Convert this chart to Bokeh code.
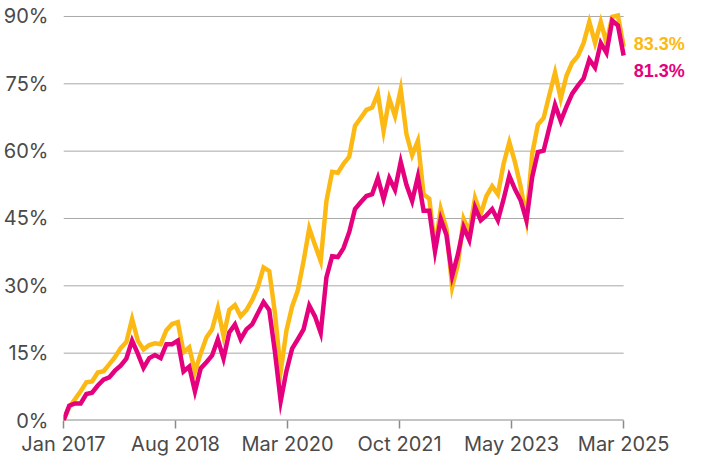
from bokeh.plotting import figure
from bokeh.models import Range1d, FixedTicker, CustomJSTickFormatter, PrintfTickFormatter
from bokeh.core.properties import value
from bokeh.embed import file_html
from bokeh.resources import INLINE

# Monthly cumulative returns (%), Jan 2017 .. Mar 2025
yellow_vals = [
    0.0, 3.0, 4.7, 6.5, 8.5, 8.7, 10.7, 11.0, 12.5, 14.1,
    16.1, 17.5, 22.6, 17.8, 15.8, 16.8, 17.2, 17.0, 20.1, 21.5,
    21.9, 15.2, 16.3, 10.9, 14.9, 18.5, 20.3, 25.0, 18.8, 24.6,
    25.7, 23.2, 24.6, 26.8, 29.7, 34.1, 33.3, 23.9, 10.9, 20.0,
    25.4, 29.0, 35.5, 42.8, 39.1, 35.5, 48.9, 55.4, 55.2, 57.2,
    58.8, 65.6, 67.4, 69.2, 69.7, 72.8, 64.5, 71.7, 67.8, 73.8,
    63.8, 59.1, 62.3, 50.4, 49.4, 38.4, 47.1, 42.8, 29.7, 34.8,
    44.9, 42.0, 49.6, 46.0, 50.0, 52.2, 50.4, 57.2, 62.0, 57.5,
    52.0, 44.8, 59.4, 65.9, 67.4, 72.5, 77.5, 71.7, 76.8, 79.7,
    81.2, 84.1, 88.8, 84.1, 88.8, 84.1, 89.9, 90.2, 83.3,
]
pink_vals = [
    0.0, 3.3, 3.8, 3.8, 5.9, 6.2, 7.8, 9.1, 9.6, 11.1,
    12.2, 13.8, 17.8, 14.9, 11.7, 13.9, 14.6, 13.9, 17.0, 17.0,
    17.8, 10.9, 12.0, 6.5, 11.6, 13.0, 14.5, 18.1, 13.8, 19.6,
    21.4, 18.1, 20.3, 21.4, 23.9, 26.4, 24.6, 15.2, 4.3, 11.0,
    16.0, 18.1, 20.3, 25.6, 23.2, 19.5, 31.9, 36.6, 36.4, 38.4,
    42.0, 47.1, 48.6, 50.0, 50.4, 54.0, 49.3, 54.0, 51.4, 57.6,
    52.5, 48.9, 54.3, 46.7, 46.7, 37.7, 44.9, 41.3, 32.2, 37.0,
    43.1, 40.2, 47.5, 44.6, 45.7, 47.1, 44.6, 49.3, 54.5, 51.5,
    49.0, 44.6, 54.2, 59.8, 60.1, 65.2, 70.3, 66.7, 69.9, 72.8,
    74.6, 76.2, 80.4, 78.6, 84.1, 81.9, 89.1, 88.0, 81.3,
]
x_tick_labels = ["Jan 2017", "Aug 2018", "Mar 2020", "Oct 2021", "May 2023", "Mar 2025"]
y_ticks = [0, 15, 30, 45, 60, 75, 90]

YELLOW = "#FDB913"
PINK = "#E5007D"
FONT = "Inter"

n = len(yellow_vals)
xs = list(range(n))
last = n - 1
x_extra = 11.0   # room right of the data for the end labels

p = figure(width=686, height=458, output_backend="svg", toolbar_location=None,
           x_range=Range1d(0, last + x_extra), y_range=Range1d(0, 91.33),
           min_border_left=54, min_border_right=0, min_border_top=10, min_border_bottom=0)
p.outline_line_color = None
p.background_fill_color = "white"
p.border_fill_color = "white"

# horizontal grid lines spanning the data extent only
p.segment(x0=[0] * (len(y_ticks) - 1), x1=[last] * (len(y_ticks) - 1),
          y0=y_ticks[1:], y1=y_ticks[1:], line_color="#a8a8a8", line_width=1)
# baseline (x axis line)
p.segment(x0=[0], x1=[last], y0=[0], y1=[0], line_color="#8a8a8a", line_width=2)

p.line(xs, yellow_vals, line_color=YELLOW, line_width=4.5, line_join="miter")
p.line(xs, pink_vals, line_color=PINK, line_width=4.5, line_join="miter")

# end-value labels
p.text(x=[last, last], y=[yellow_vals[-1], pink_vals[-1]],
       text=[f"{yellow_vals[-1]:.1f}%", f"{pink_vals[-1]:.1f}%"],
       text_color=[YELLOW, PINK], x_offset=10, y_offset=[-3, 15],
       text_font=value("Liberation Sans"), text_font_style="bold",
       text_font_size="18px", text_baseline="middle", text_align="left")

# x axis
xt = [i * last / (len(x_tick_labels) - 1) for i in range(len(x_tick_labels))]
p.xaxis.ticker = FixedTicker(ticks=xt)
p.xaxis.formatter = CustomJSTickFormatter(args=dict(labels=x_tick_labels), code="return labels[index];")
p.xaxis.axis_line_color = None
p.xaxis.major_tick_line_color = "#8a8a8a"
p.xaxis.major_tick_line_width = 1.5
p.xaxis.major_tick_out = 8
p.xaxis.major_tick_in = 0
p.xaxis.minor_tick_line_color = None
p.xaxis.major_label_standoff = 3
p.xaxis.axis_label_standoff = 0
p.xaxis.major_label_text_font = FONT
p.xaxis.major_label_text_font_size = "20px"
p.xaxis.major_label_text_color = "#4a4a4a"

# y axis
p.yaxis.ticker = FixedTicker(ticks=y_ticks)
p.yaxis.formatter = PrintfTickFormatter(format="%d%%")
p.yaxis.axis_line_color = None
p.yaxis.major_tick_line_color = None
p.yaxis.minor_tick_line_color = None
p.yaxis.major_label_standoff = 9
p.yaxis.major_label_text_font = FONT
p.yaxis.major_label_text_font_size = "20px"
p.yaxis.major_label_text_color = "#4a4a4a"

p.xgrid.grid_line_color = None
p.ygrid.grid_line_color = None

open("out.html", "w").write(file_html(p, INLINE))
